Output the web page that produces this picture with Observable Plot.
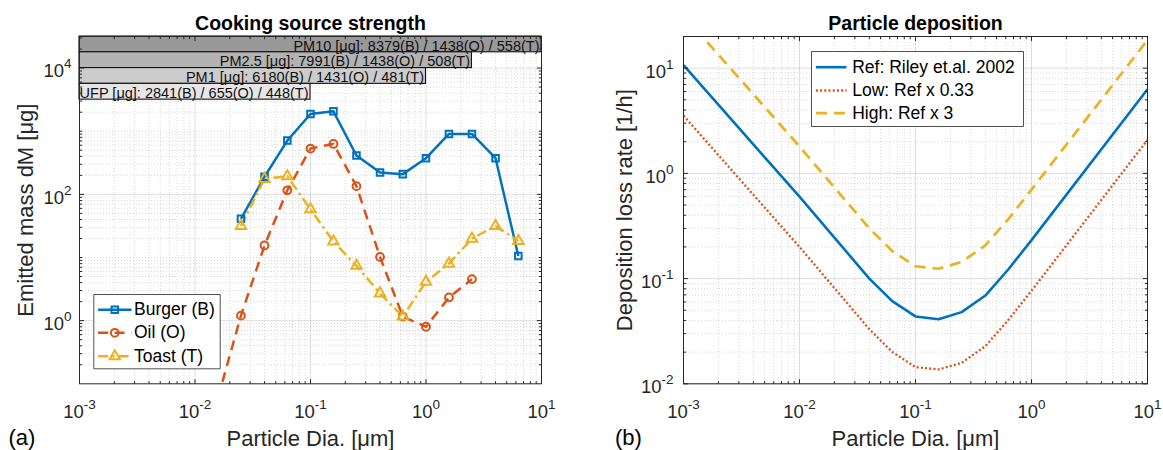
<!DOCTYPE html>
<html>
<head>
<meta charset="utf-8">
<script src="https://cdn.jsdelivr.net/npm/d3@7"></script>
<script src="https://cdn.jsdelivr.net/npm/@observablehq/plot@0.6"></script>
<style>
  body { margin: 0; background: #fff; }
  #wrap { position: relative; width: 1163px; height: 450px; overflow: hidden; background: #fff;
          font-family: "Liberation Sans", Arial, Helvetica, sans-serif; }
  #left { position: absolute; left: 0; top: 0; }
  #right { position: absolute; left: 580px; top: 0; }
</style>
</head>
<body>
<div id="wrap"><div id="left"></div><div id="right"></div></div>
<script>
// ---------------- data: (a) cooking source strength ----------------
const sizeBins = [0.025, 0.04, 0.063, 0.1, 0.158, 0.25, 0.4, 0.63, 1, 1.58, 2.5, 4, 6.3];
const burger   = [41, 190, 711, 1874, 2065, 412, 222, 209, 374, 905, 905, 374, 10.6];
const toast    = [31.6, 176, 194, 58, 17.9, 7.4, 2.7, 1.16, 4.13, 8.0, 19.9, 31.6, 18.3];
const oilBins  = [0.0158, 0.025, 0.04, 0.063, 0.1, 0.158, 0.25, 0.4, 0.63, 1, 1.58, 2.5];
const oil      = [0.06, 1.2, 15.5, 116, 532, 629, 135, 10.2, 1.16, 0.8, 2.33, 4.55];
const seriesNames = ["Burger (B)", "Oil (O)", "Toast (T)"];

const pmNames   = ["PM10", "PM2.5", "PM1", "UFP"];
const pmCutoffs = [10, 2.5, 1, 0.1];
const pmBurger  = [8379, 7991, 6180, 2841];
const pmOil     = [1438, 1438, 1431, 655];
const pmToast   = [558, 508, 481, 448];

// ---------------- data: (b) particle deposition ----------------
const depSizes = [0.001, 0.01, 0.04, 0.063, 0.1, 0.158, 0.25, 0.4, 0.63, 1, 10];
const depRef   = [10.7, 0.6, 0.1, 0.061, 0.0437, 0.041, 0.048, 0.069, 0.122, 0.232, 6.3];
const depLow   = [3.54, 0.2, 0.033, 0.0201, 0.0144, 0.0137, 0.0158, 0.0228, 0.0403, 0.0766, 2.08];
const depHigh  = [32, 1.8, 0.3, 0.183, 0.131, 0.124, 0.144, 0.207, 0.366, 0.70, 18.5];
const depNames = ["Ref: Riley et.al. 2002", "Low: Ref x 0.33", "High: Ref x 3"];

// ---------------- ticks ----------------
const xTicks = [1e-3, 1e-2, 1e-1, 1, 10];
const leftYTicks = [1, 100, 1e4];
const rightYTicks = [0.01, 0.1, 1, 10];

// ---------------- styles ----------------
const FONT = "'Liberation Sans', Arial, Helvetica, sans-serif";
const AX = "#262626";
const BLUE = "#0072BD", ORANGE = "#D95319", YELLOW = "#EDB120";
const pmGray = ["#999999", "#b3b3b3", "#cccccc", "#e6e6e6"];
const ns = "http://www.w3.org/2000/svg";

function minorTicks(lo, hi, majors) {
  const out = [];
  for (let k = Math.floor(Math.log10(lo)) - 1; k <= Math.ceil(Math.log10(hi)); k++) {
    for (let m = 1; m <= 9; m++) {
      const v = +(m * Math.pow(10, k)).toPrecision(6);
      if (v > lo * 1.0001 && v < hi * 0.9999 && !majors.some(t => Math.abs(t - v) / t < 1e-6)) out.push(v);
    }
  }
  return out;
}
const seg = (x1, y1, x2, y2) => ({draw(c) { c.moveTo(x1, y1); c.lineTo(x2, y2); }});
const box = (w, h) => ({draw(c) { c.rect(0, 0, w, h); }});
const expFmt = (axis) => (d) => `${axis}10^${Math.round(Math.log10(d))}`;

function gridMarks(xMaj, xMin, yMaj, yMin) {
  const minor = {stroke: "#000", strokeOpacity: 0.22, strokeWidth: 0.7, strokeDasharray: "1,2"};
  const major = {stroke: AX, strokeOpacity: 0.15, strokeWidth: 1};
  return [
    Plot.ruleX(xMin, minor), Plot.ruleY(yMin, minor),
    Plot.ruleX(xMaj, major), Plot.ruleY(yMaj, major)
  ];
}
function tickMarks(xMaj, xMin, yMaj, yMin) {
  const L = 4.6, l = 2.6, st = {stroke: AX, strokeWidth: 1, fill: "none"};
  const mk = [];
  for (const [vals, len] of [[xMaj, L], [xMin, l]]) {
    mk.push(Plot.dot(vals, {x: d => d, frameAnchor: "bottom", symbol: seg(0, 0, 0, -len), ...st}));
    mk.push(Plot.dot(vals, {x: d => d, frameAnchor: "top", symbol: seg(0, 0, 0, len), ...st}));
  }
  for (const [vals, len] of [[yMaj, L], [yMin, l]]) {
    mk.push(Plot.dot(vals, {y: d => d, frameAnchor: "left", symbol: seg(0, 0, len, 0), ...st}));
    mk.push(Plot.dot(vals, {y: d => d, frameAnchor: "right", symbol: seg(0, 0, -len, 0), ...st}));
  }
  return mk;
}
function superscripts(svg) {
  svg.querySelectorAll("text").forEach(t => {
    const m = /^([XY])10\^(-?\d+)$/.exec(t.textContent.trim());
    if (!m) return;
    t.textContent = "";
    const base = document.createElementNS(ns, "tspan");
    base.textContent = "10";
    if (m[1] === "Y") base.setAttribute("dy", "3.5");
    const ex = document.createElementNS(ns, "tspan");
    ex.textContent = m[2];
    ex.setAttribute("dy", "-9");
    ex.setAttribute("font-size", "13.5");
    t.append(base, ex);
  });
}

// ================= LEFT PANEL =================
const xDomain = [1e-3, 10];
const leftYDomain = [0.1, Math.pow(10, 4.5)];
const xMinor = minorTicks(xDomain[0], xDomain[1], xTicks);
const leftYMinor = minorTicks(leftYDomain[0], leftYDomain[1], leftYTicks);

const burgerRows = sizeBins.map((d, i) => ({d, v: burger[i]}));
const toastRows = sizeBins.map((d, i) => ({d, v: toast[i]}));
const oilRows = oilBins.map((d, i) => ({d, v: oil[i]}));
const pmRows = pmNames.map((name, i) => ({
  i, name, cut: pmCutoffs[i],
  label: `${name} [μg]: ${pmBurger[i]}(B) / ${pmOil[i]}(O) / ${pmToast[i]}(T)`
}));

const series = [
  {rows: burgerRows, color: BLUE, dash: null, symbol: "square", r: 3.7},
  {rows: oilRows, color: ORANGE, dash: "10,6.5", symbol: "circle", r: 3.9},
  {rows: toastRows, color: YELLOW, dash: "10,4,2.5,4", symbol: "triangle", r: 3.9}
];

const leftMarks = [
  ...gridMarks(xTicks, xMinor, leftYTicks, leftYMinor),
  Plot.rect(pmRows, {
    x1: () => xDomain[0], x2: "cut",
    y1: d => Math.pow(10, 4.5 - 0.25 * (d.i + 1)),
    y2: d => Math.pow(10, 4.5 - 0.25 * d.i),
    fill: d => pmGray[d.i], stroke: "#111", strokeWidth: 1.1
  }),
  Plot.text(pmRows, {
    x: "cut", y: d => Math.pow(10, 4.375 - 0.25 * d.i), text: "label",
    textAnchor: "end", lineAnchor: "middle", dx: -2, dy: 1.5, fontSize: 14.5, fill: "#111"
  })
];
for (const s of series) {
  leftMarks.push(Plot.line(s.rows, {
    x: "d", y: "v", stroke: s.color, strokeWidth: 2.5,
    strokeDasharray: s.dash || undefined, strokeLinecap: "butt", strokeLinejoin: "round", clip: true
  }));
}
for (const s of series) {
  leftMarks.push(Plot.dot(s.rows, {
    x: "d", y: "v", symbol: s.symbol, r: s.r, stroke: s.color, fill: "none", strokeWidth: 2, clip: true
  }));
}
// legend (a)
leftMarks.push(Plot.dot([0], {frameAnchor: "top-left", dx: 14.3, dy: 258, symbol: box(126.4, 74.3),
  fill: "white", stroke: AX, strokeWidth: 0.8}));
const legRowsL = [273.3, 296.3, 319.7];
series.forEach((s, i) => {
  leftMarks.push(Plot.dot([0], {frameAnchor: "top-left", dx: 35.3, dy: legRowsL[i],
    symbol: seg(-16.7, 0, 16.7, 0), stroke: s.color, strokeWidth: 2.5, fill: "none",
    strokeDasharray: s.dash || undefined, strokeLinecap: "butt"}));
  leftMarks.push(Plot.dot([0], {frameAnchor: "top-left", dx: 35.3, dy: legRowsL[i],
    symbol: s.symbol, r: s.r, stroke: s.color, fill: "none", strokeWidth: 2}));
  leftMarks.push(Plot.text([seriesNames[i]], {frameAnchor: "top-left", dx: 54.5, dy: legRowsL[i],
    text: d => d, textAnchor: "start", lineAnchor: "middle", fontSize: 17.5, fill: "#000"}));
});
leftMarks.push(
  ...tickMarks(xTicks, xMinor, leftYTicks, leftYMinor),
  Plot.frame({stroke: AX, strokeWidth: 1}),
  Plot.text(["Cooking source strength"], {frameAnchor: "top", dy: -7, lineAnchor: "bottom",
    text: d => d, fontSize: 19.5, fontWeight: "bold", fill: "#000"}),
  Plot.text(["Particle Dia. [μm]"], {frameAnchor: "bottom", dy: 61.7, lineAnchor: "bottom",
    text: d => d, fontSize: 22, fill: AX}),
  Plot.text(["Emitted mass dM [μg]"], {frameAnchor: "left", dx: -47, rotate: -90, lineAnchor: "bottom",
    textAnchor: "middle", text: d => d, fontSize: 22, fill: AX}),
  Plot.text(["(a)"], {frameAnchor: "bottom-left", dx: -71, dy: 61, textAnchor: "start", lineAnchor: "bottom",
    text: d => d, fontSize: 22, fill: "#000"})
);

const leftSvg = Plot.plot({
  width: 580, height: 450,
  marginLeft: 79, marginRight: 39, marginTop: 36, marginBottom: 66.7,
  style: {fontFamily: FONT, fontSize: "18.5px", color: AX, background: "transparent", overflow: "visible"},
  x: {type: "log", domain: xDomain, ticks: xTicks, tickFormat: expFmt("X"), tickSize: 0, tickPadding: 20.6, label: null},
  y: {type: "log", domain: leftYDomain, ticks: leftYTicks, tickFormat: expFmt("Y"), tickSize: 0, tickPadding: 8, label: null},
  marks: leftMarks
});
superscripts(leftSvg);
document.getElementById("left").append(leftSvg);

// ================= RIGHT PANEL =================
const rightYDomain = [0.01, 20];
const rightYMinor = minorTicks(rightYDomain[0], rightYDomain[1], rightYTicks);
const depSeries = [
  {vals: depRef, color: BLUE, dash: null, width: 2.6},
  {vals: depLow, color: ORANGE, dash: "2,2.2", width: 2.3},
  {vals: depHigh, color: YELLOW, dash: "11,7", width: 2.7}
];
const rightMarks = [...gridMarks(xTicks, xMinor, rightYTicks, rightYMinor)];
depSeries.forEach(s => {
  rightMarks.push(Plot.line(depSizes.map((d, i) => ({d, v: s.vals[i]})), {
    x: "d", y: "v", stroke: s.color, strokeWidth: s.width,
    strokeDasharray: s.dash || undefined, strokeLinecap: "butt", strokeLinejoin: "round", clip: true
  }));
});
rightMarks.push(Plot.dot([0], {frameAnchor: "top-left", dx: 128, dy: 15, symbol: box(212, 75),
  fill: "white", stroke: AX, strokeWidth: 0.8}));
const legRowsR = [30.7, 54, 76.7];
depSeries.forEach((s, i) => {
  rightMarks.push(Plot.dot([0], {frameAnchor: "top-left", dx: 147.7, dy: legRowsR[i],
    symbol: seg(-15.3, 0, 15.3, 0), stroke: s.color, strokeWidth: s.width, fill: "none",
    strokeDasharray: s.dash || undefined, strokeLinecap: "butt"}));
  rightMarks.push(Plot.text([depNames[i]], {frameAnchor: "top-left", dx: 168.7, dy: legRowsR[i],
    text: d => d, textAnchor: "start", lineAnchor: "middle", fontSize: 17.5, fill: "#000"}));
});
rightMarks.push(
  ...tickMarks(xTicks, xMinor, rightYTicks, rightYMinor),
  Plot.frame({stroke: AX, strokeWidth: 1}),
  Plot.text(["Particle deposition"], {frameAnchor: "top", dy: -7, lineAnchor: "bottom",
    text: d => d, fontSize: 19.5, fontWeight: "bold", fill: "#000"}),
  Plot.text(["Particle Dia. [μm]"], {frameAnchor: "bottom", dy: 61.7, lineAnchor: "bottom",
    text: d => d, fontSize: 22, fill: AX}),
  Plot.text(["Deposition loss rate [1/h]"], {frameAnchor: "left", dx: -52, rotate: -90, lineAnchor: "bottom",
    textAnchor: "middle", text: d => d, fontSize: 22, fill: AX}),
  Plot.text(["(b)"], {frameAnchor: "bottom-left", dx: -68.6, dy: 61, textAnchor: "start", lineAnchor: "bottom",
    text: d => d, fontSize: 22, fill: "#000"})
);

const rightSvg = Plot.plot({
  width: 583, height: 450,
  marginLeft: 103, marginRight: 16, marginTop: 36, marginBottom: 66.7,
  style: {fontFamily: FONT, fontSize: "18.5px", color: AX, background: "transparent", overflow: "visible"},
  x: {type: "log", domain: xDomain, ticks: xTicks, tickFormat: expFmt("X"), tickSize: 0, tickPadding: 20.6, label: null},
  y: {type: "log", domain: rightYDomain, ticks: rightYTicks, tickFormat: expFmt("Y"), tickSize: 0, tickPadding: 10, label: null},
  marks: rightMarks
});
superscripts(rightSvg);
document.getElementById("right").append(rightSvg);
</script>
</body>
</html>
